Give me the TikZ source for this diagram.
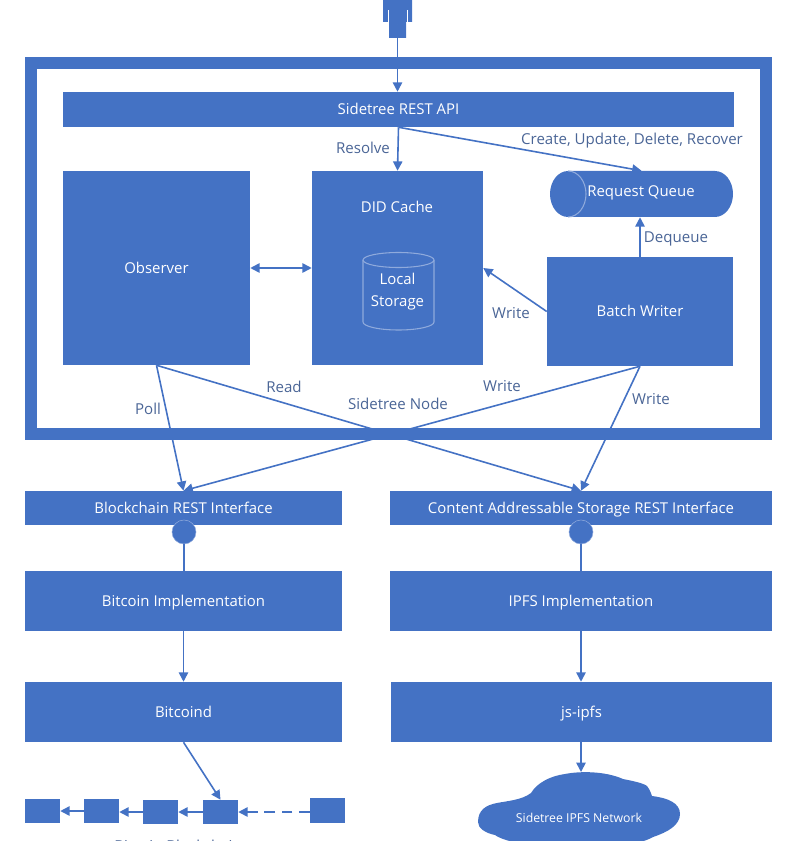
\documentclass[tikz,border=0pt]{standalone}
\usepackage{fontspec}
\setmainfont{Open Sans}
\usetikzlibrary{arrows.meta}
\definecolor{blu}{HTML}{4472C4}
\definecolor{lite}{HTML}{8FAADC}
\definecolor{lab}{HTML}{4A6596}
\newcommand{\bx}[6]{%
  \pgfmathsetlengthmacro{\bw}{(#4-#2)*0.75pt}%
  \pgfmathsetlengthmacro{\bh}{(#5-#3)*0.75pt}%
  \node[bxs,minimum width=\bw,minimum height=\bh] (#1) at ({(#2+#4)/2},{(#3+#5)/2}) {#6};}
\tikzset{
  x=0.75pt,y=-0.75pt,
  bxs/.style={fill=blu,draw=none,inner sep=0pt,text=white,text height=8pt,text depth=0pt,font=\fontsize{11.2pt}{13pt}\selectfont},
  tl/.style={text=white,font=\fontsize{11.2pt}{16pt}\selectfont,align=center,inner sep=0pt},
  lbl/.style={text=lab,text height=8pt,text depth=0pt,font=\fontsize{11.3pt}{13pt}\selectfont,inner sep=0pt},
  arr/.style={draw=blu,line width=1.2pt,-{Triangle[length=7pt,width=7pt]}},
  darr/.style={draw=blu,line width=1.2pt,{Triangle[length=7pt,width=7pt]}-{Triangle[length=7pt,width=7pt]}},
  plain/.style={draw=blu,line width=1.2pt},
  lt/.style={draw=lite,line width=0.8pt},
}
\begin{document}
\begin{tikzpicture}
\useasboundingbox (0,0) rectangle (800,841);
\clip (0,0) rectangle (800,841);
% person
\fill[blu] (383,0) -- (412,0) -- (412,22) -- (406,22) -- (406,38) -- (389,38) -- (389,22) -- (383,22) -- cycle;
\draw[white,line width=0.7pt] (388,10) -- (388,22) (407,10) -- (407,22);
\draw[white,line width=1pt] (397.5,25) -- (397.5,38);
\coordinate (person) at (397.5,25);
% outer box
\draw[blu,line width=9pt] (31,63) rectangle (766,434);
\bx{api}{63}{92}{734}{127}{Sidetree REST API}
\bx{obs}{63}{171}{250}{365}{Observer}
\bx{did}{312}{171}{483}{365}{}
\bx{bw}{547}{257}{733}{366}{Batch Writer}
\node[tl] (didt) at (397,207) {DID Cache};
% local storage
\draw[lt] (398.5,260) ellipse[x radius=35.5,y radius=7.5];
\draw[lt] (363,260) -- (363,322) arc[start angle=180,end angle=0,x radius=35.5,y radius=8] -- (434,260);
\node[tl] (ls) at (397.5,291.5) {Local\\Storage};
% request queue
\fill[blu] (568,171) -- (715,171) arc[start angle=-90,end angle=90,x radius=18,y radius=23] -- (568,217) arc[start angle=90,end angle=270,x radius=18,y radius=23] -- cycle;
\draw[lt] (568,171) arc[start angle=-90,end angle=90,x radius=18,y radius=23];
\node[minimum width=137.25pt,minimum height=34.5pt,inner sep=0pt] (queue) at (641.5,194) {};
\node[tl] (queuet) at (641,193) {Request Queue};
% lower stacks
\bx{bc}{25}{491}{342}{525}{Blockchain REST Interface}
\bx{cas}{390}{491}{772}{525}{Content Addressable Storage REST Interface}
\node[circle,fill=blu,draw=lite,line width=0.4pt,minimum size=18pt,inner sep=0pt] (c1) at (184,532) {};
\node[circle,fill=blu,draw=lite,line width=0.4pt,minimum size=18pt,inner sep=0pt] (c2) at (581,532) {};
\bx{bi}{25}{571}{342}{631}{Bitcoin Implementation}
\bx{ii}{390}{571}{772}{631}{IPFS Implementation}
\bx{bd}{25}{682}{342}{742}{Bitcoind}
\bx{js}{391}{682}{772}{742}{js-ipfs}
% blocks
\bx{b1}{25}{799}{60}{823}{}
\bx{b2}{84}{799}{119}{823}{}
\bx{b3}{143}{800}{178}{824}{}
\bx{b4}{203}{800}{238}{824}{}
\bx{b5}{310}{798}{345}{823}{}
% cloud
\fill[blu] (478,822) .. controls (478,810) and (486,805) .. (497,803)
  .. controls (507,801) and (522,800) .. (531,793)
  .. controls (537,783) and (550,776) .. (565,774)
  .. controls (580,771) and (605,771) .. (623,779)
  .. controls (633,781) and (643,783) .. (647,786)
  .. controls (650,790) and (651,793) .. (652,796)
  .. controls (668,798) and (680,803) .. (680,814)
  .. controls (680,825) and (668,832) .. (653,837)
  .. controls (640,845) and (600,850) .. (560,848)
  .. controls (530,846) and (505,842) .. (495,835)
  .. controls (485,833) and (478,828) .. (478,822) -- cycle;
\node[inner sep=0pt,text=white,font=\fontsize{9.2pt}{11pt}\selectfont] (cloud) at (579,818) {Sidetree IPFS Network};
\coordinate (cloudtop) at (581,772);
% connectors
\draw[arr] (person) -- (person |- api.north);
\draw[arr] (api.south) -- (did.north);
\draw[arr] (api.south) -- (queue.north);
\draw[arr] (bw.north) -- (bw.north |- queue.south);
\draw[darr] (obs.east) -- (did.west);
\draw[arr] (bw.west) -- (did.east);
\draw[arr] (obs.south) -- (bc.north);
\draw[arr] (obs.south) -- (cas.north);
\draw[arr] (bw.south) -- (bc.north);
\draw[arr] (bw.south) -- (cas.north);
\draw[plain] (c1) -- (bi.north -| c1);
\draw[plain] (c2) -- (ii.north -| c2);
\draw[arr] (bi.south) -- (bd.north);
\draw[arr] (ii.south) -- (ii.south |- js.north);
\draw[arr] (js.south -| cloudtop) -- (cloudtop);
\draw[arr] (bd.south) -- (b4.north);
\draw[arr] (b2.west) -- (b1.east);
\draw[arr] (b3.west) -- (b3.west -| b2.east);
\draw[arr] (b4.west) -- (b3.east);
\draw[arr,dash pattern=on 8pt off 5pt] (b5.west |- b4.east) -- (b4.east);
% labels
\node[lbl] (l1) at (363,148) {Resolve};
\node[lbl] (l2) at (632,139) {Create, Update, Delete, Recover};
\node[lbl] (l3) at (676,237) {Dequeue};
\node[lbl] (l4) at (511,313) {Write};
\node[lbl] (l5) at (284,387) {Read};
\node[lbl] (l6) at (398,404) {Sidetree Node};
\node[lbl] (l7) at (502,386) {Write};
\node[lbl] (l8) at (148,409) {Poll};
\node[lbl] (l9) at (651,399) {Write};
\node[lbl] (l10) at (178,846) {Bitcoin Blockchain};
\end{tikzpicture}
\end{document}
